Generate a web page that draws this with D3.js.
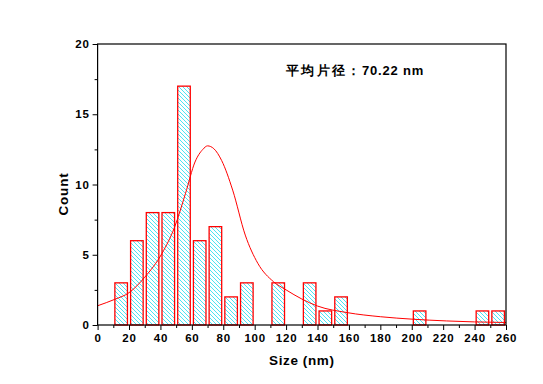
<!DOCTYPE html>
<html>
<head>
<meta charset="utf-8">
<script src="https://cdn.jsdelivr.net/npm/d3@7"></script>
<style>
  body { margin: 0; background: #fff; }
  text { font-family: "Liberation Sans", Arial, sans-serif; font-weight: bold; }
</style>
</head>
<body>
<svg id="chart" width="543" height="384"></svg>
<script>
// histograma (centro do bin, contagem)
const binCenters = [15, 25, 35, 45, 55, 65, 75, 85, 95, 115, 135, 145, 155, 205, 245, 255];
const counts = [3, 6, 8, 8, 17, 6, 7, 2, 3, 3, 3, 1, 2, 1, 1, 1];
const binWidth = 10;

// curva de ajuste
const fitX = [0, 11, 20, 30, 41, 49, 56, 62, 67, 70, 74, 79, 86, 94, 102, 112, 120, 130, 140, 159, 180, 201, 222, 240, 260];
const fitY = [1.37, 1.83, 2.3, 3.4, 5.1, 6.96, 9.38, 11.6, 12.5, 12.75, 12.55, 11.7, 9.6, 6.4, 4.39, 3.08, 2.5, 1.85, 1.35, 0.88, 0.59, 0.41, 0.29, 0.22, 0.18];

const xTicks = d3.range(0, 261, 20);
const yTicks = [0, 5, 10, 15, 20];
const annotationLabel = "平均片径：";
const annotationValue = "70.22 nm";

const svg = d3.select("#chart");
const mLeft = 97.6, mRight = 506, mTop = 44, mBottom = 325;

const x = d3.scaleLinear().domain([0, 260]).range([mLeft, mRight]);
const y = d3.scaleLinear().domain([0, 20]).range([mBottom, mTop]);

// padrão de hachura
const defs = svg.append("defs");
const pat = defs.append("pattern")
  .attr("id", "hatch")
  .attr("patternUnits", "userSpaceOnUse")
  .attr("width", 4).attr("height", 4);
pat.append("rect").attr("width", 4).attr("height", 4).attr("fill", "#fff");
pat.append("path")
  .attr("d", "M-1,-1 L5,5 M3,-1 L5,1 M-1,3 L1,5")
  .attr("stroke", "#20dcf0")
  .attr("stroke-width", 0.8);

// barras
svg.selectAll("rect.bar")
  .data(binCenters)
  .enter()
  .append("rect")
  .attr("class", "bar")
  .attr("x", d => x(d - binWidth * 0.4))
  .attr("width", d => x(d + binWidth * 0.4) - x(d - binWidth * 0.4))
  .attr("y", (d, i) => y(counts[i]))
  .attr("height", (d, i) => y(0) - y(counts[i]))
  .attr("fill", "url(#hatch)")
  .attr("stroke", "#ff0000")
  .attr("stroke-width", 1.3);

// curva
const line = d3.line()
  .x(d => x(d[0]))
  .y(d => y(d[1]))
  .curve(d3.curveMonotoneX);
svg.append("path")
  .datum(fitX.map((v, i) => [v, fitY[i]]))
  .attr("d", line)
  .attr("fill", "none")
  .attr("stroke", "#ff0000")
  .attr("stroke-width", 1);

// eixos
const xAxis = d3.axisBottom(x).tickValues(xTicks).tickSize(5).tickPadding(4).tickFormat(d3.format("d"));
const xMinor = d3.axisBottom(x).tickValues(d3.range(10, 260, 20)).tickSize(3).tickFormat("");
const yAxis = d3.axisLeft(y).tickValues(yTicks).tickSize(5).tickPadding(3);
const yMinor = d3.axisLeft(y).tickValues([2.5, 7.5, 12.5, 17.5]).tickSize(3).tickFormat("");

svg.append("g").attr("transform", `translate(0,${mBottom})`).call(xAxis);
svg.append("g").attr("transform", `translate(0,${mBottom})`).call(xMinor);
svg.append("g").attr("transform", `translate(${mLeft},0)`).call(yAxis);
svg.append("g").attr("transform", `translate(${mLeft},0)`).call(yMinor);

svg.selectAll(".domain").remove();
svg.selectAll(".tick line").attr("stroke", "#000");
svg.selectAll(".tick text")
  .attr("fill", "#000")
  .attr("font-size", "11.5px")
  .attr("font-weight", "bold")
  .attr("font-family", "Liberation Sans, Arial, sans-serif")
  .style("letter-spacing", "0.8px");

// moldura
svg.append("rect")
  .attr("x", mLeft).attr("y", mTop)
  .attr("width", mRight - mLeft).attr("height", mBottom - mTop)
  .attr("fill", "none")
  .attr("stroke", "#000")
  .attr("stroke-width", 1.2);

// títulos
svg.append("text")
  .attr("x", (mLeft + mRight) / 2)
  .attr("y", 365)
  .attr("text-anchor", "middle")
  .attr("font-size", "13.5px")
  .style("letter-spacing", "0.6px")
  .text("Size (nm)");

svg.append("text")
  .attr("transform", `translate(68,194) rotate(-90)`)
  .attr("text-anchor", "middle")
  .attr("font-size", "13.5px")
  .style("letter-spacing", "0.8px")
  .text("Count");

const ann = svg.append("text")
  .attr("x", 286)
  .attr("y", 75)
  .attr("font-size", "13px");
ann.append("tspan")
  .style("letter-spacing", "2.3px")
  .text(annotationLabel);
ann.append("tspan")
  .attr("x", 362)
  .style("letter-spacing", "0.8px")
  .text(annotationValue);
</script>
</body>
</html>
